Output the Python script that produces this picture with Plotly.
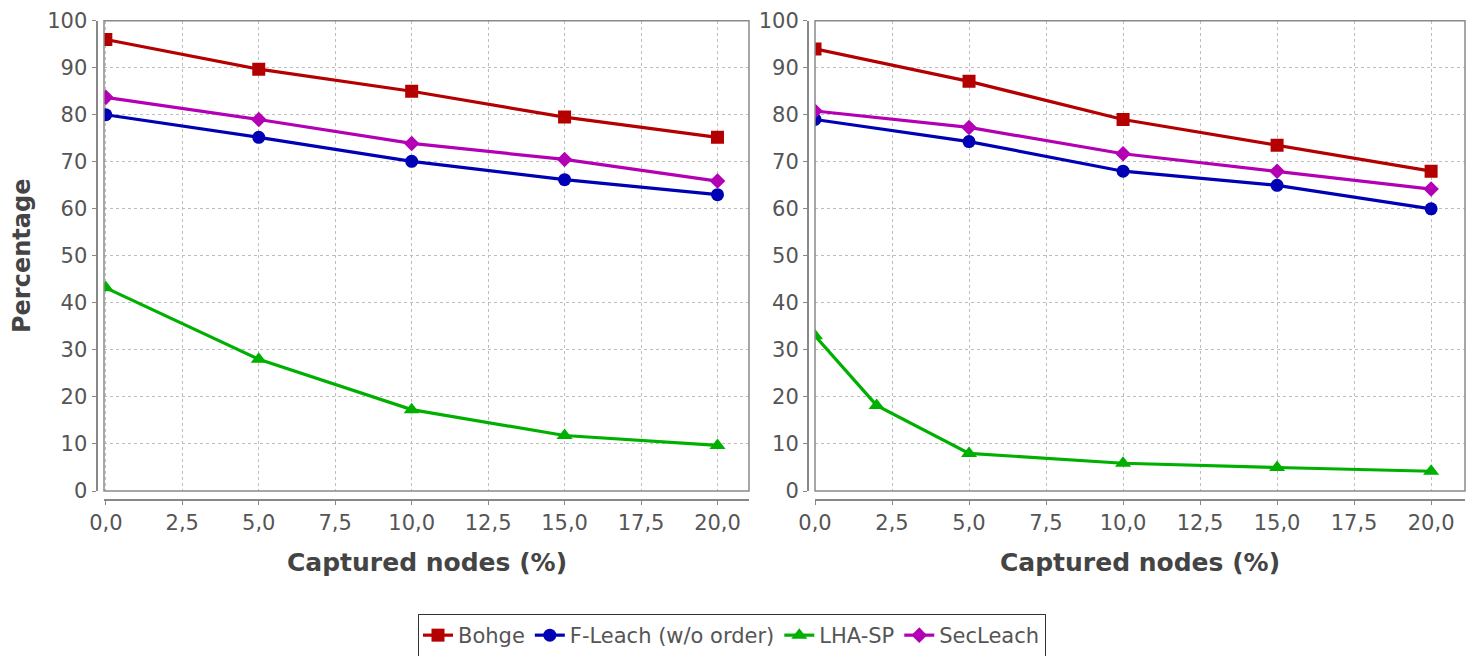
import plotly.graph_objects as go

# Captured nodes (%) on the horizontal axis
x_left = [0, 5, 10, 15, 20]
x_right = [0, 5, 10, 15, 20]
x_right_lha = [0, 2, 5, 10, 15, 20]

# Left panel series (percentage)
bohge_left = [96.0, 89.7, 85.0, 79.5, 75.2]
fleach_left = [80.0, 75.2, 70.1, 66.2, 63.0]
lhasp_left = [43.2, 28.0, 17.3, 11.8, 9.7]
secleach_left = [83.7, 79.0, 73.9, 70.5, 65.9]

# Right panel series (percentage)
bohge_right = [94.0, 87.1, 79.0, 73.5, 68.0]
fleach_right = [79.0, 74.3, 68.0, 65.0, 60.0]
lhasp_right = [33.0, 18.2, 8.0, 5.9, 5.0, 4.2]
secleach_right = [80.8, 77.3, 71.7, 68.0, 64.2]

series_names = ["Bohge", "F-Leach (w/o order)", "LHA-SP", "SecLeach"]
series_colors = ["#b40000", "#0000b4", "#00b000", "#b400b4"]
series_symbols = ["square", "circle", "triangle-up", "diamond"]
series_sizes = [13, 13, 14, 12]

W, H = 1472, 656
FONT = "DejaVu Sans"
TICK_COLOR = "#555555"
TITLE_COLOR = "#444444"

left_data = [(x_left, bohge_left), (x_left, fleach_left),
             (x_left, lhasp_left), (x_left, secleach_left)]
right_data = [(x_right, bohge_right), (x_right, fleach_right),
              (x_right_lha, lhasp_right), (x_right, secleach_right)]

fig = go.Figure()
for panel, (xa, ya, data) in enumerate([("x", "y", left_data), ("x2", "y2", right_data)]):
    for i, (xs, ys) in enumerate(data):
        fig.add_trace(go.Scatter(
            x=xs, y=ys, xaxis=xa, yaxis=ya,
            mode="lines+markers",
            name=series_names[i],
            legendgroup=series_names[i],
            showlegend=(panel == 0),
            line=dict(color=series_colors[i], width=3.2),
            marker=dict(symbol=series_symbols[i], size=series_sizes[i],
                        color=series_colors[i]),
        ))

ydom = [1 - 491 / H, 1 - 20.7 / H]
xaxis_pos = 1 - 500 / H

common_x = dict(
    anchor="free", position=xaxis_pos, automargin=False,
    tick0=0, dtick=2.5, tickformat=".1f",
    showline=True, linecolor="#888888", linewidth=2,
    ticks="outside", ticklen=4, tickcolor="#888888",
    showgrid=True, gridcolor="#bdbdbd", griddash="3px,3px", gridwidth=1,
    zeroline=False,
    tickfont=dict(family=FONT, size=21, color=TICK_COLOR),
    fixedrange=True,
)
common_y = dict(
    anchor="free", domain=ydom, range=[0, 100], automargin=False,
    tick0=0, dtick=10,
    showline=True, linecolor="#888888", linewidth=2,
    ticks="outside", ticklen=4, tickcolor="#888888",
    showgrid=True, gridcolor="#bdbdbd", griddash="3px,3px", gridwidth=1,
    zeroline=False,
    tickfont=dict(family=FONT, size=21, color=TICK_COLOR),
    fixedrange=True,
)

fig.update_layout(
    width=W, height=H,
    margin=dict(l=0, r=0, t=0, b=0, autoexpand=False),
    paper_bgcolor="white", plot_bgcolor="white",
    separators=", ",
    xaxis=dict(common_x, domain=[104 / W, 749 / W], range=[-0.06, 21.03]),
    yaxis=dict(common_y, position=96.5 / W),
    xaxis2=dict(common_x, domain=[815 / W, 1465 / W], range=[0, 21.1]),
    yaxis2=dict(common_y, position=808 / W),
    legend=dict(
        orientation="h", x=732 / W, xanchor="center",
        y=1 - 614 / H, yanchor="top",
        bordercolor="#333333", borderwidth=1,
        font=dict(family=FONT, size=21, color=TICK_COLOR),
        itemwidth=30, tracegroupgap=0,
    ),
)

# Plot-area borders
for xr, yr in [("x domain", "y domain"), ("x2 domain", "y2 domain")]:
    fig.add_shape(type="rect", xref=xr, yref=yr, x0=0, x1=1, y0=0, y1=1,
                  line=dict(color="#8a8a8a", width=1.5), fillcolor="rgba(0,0,0,0)",
                  layer="above")

# Axis titles
title_font = dict(family=FONT, size=25, color=TITLE_COLOR)
for cx in [426.5 / W, 1140 / W]:
    fig.add_annotation(text="<b>Captured nodes (%)</b>", xref="paper", yref="paper",
                       x=cx, y=1 - 562 / H, xanchor="center", yanchor="middle",
                       showarrow=False, font=title_font)
fig.add_annotation(text="<b>Percentage</b>", xref="paper", yref="paper",
                   x=22 / W, y=1 - 256 / H, xanchor="center", yanchor="middle",
                   textangle=-90, showarrow=False,
                   font=dict(family=FONT, size=24, color=TITLE_COLOR))

fig.write_html("out.html")
